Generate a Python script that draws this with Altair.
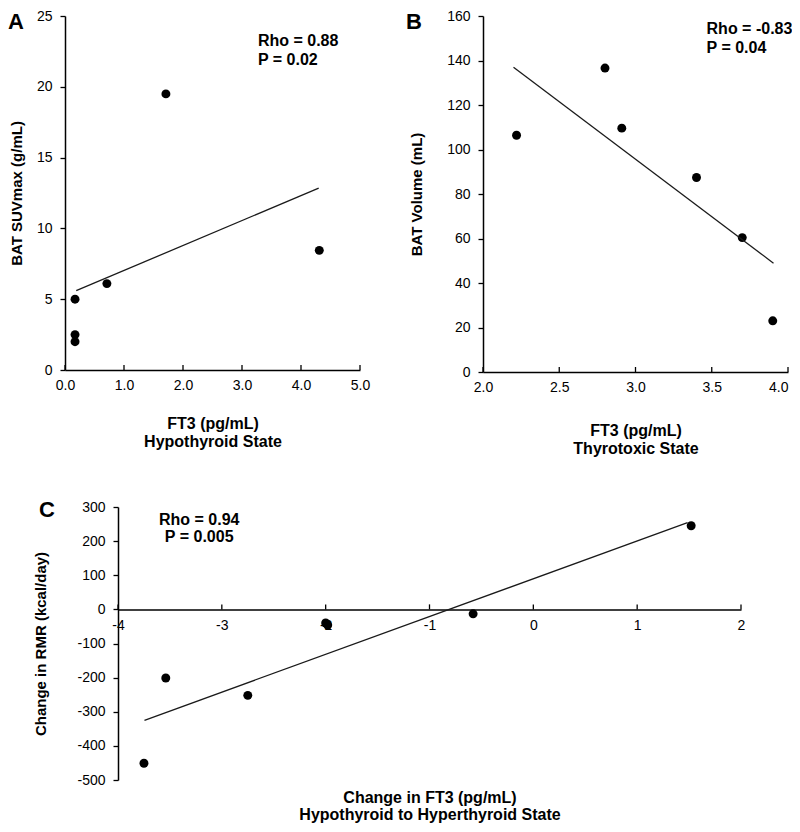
import altair as alt
import pandas as pd

FONT = "Liberation Sans"
W, H = 784, 816

# ---------------- Panel A data ----------------
a_ft3 = [0.17, 0.17, 0.17, 0.71, 1.71, 4.31]
a_suv = [5.0, 2.5, 2.0, 6.1, 19.5, 8.45]
a_fit_x = [0.19, 4.30]
a_fit_y = [5.6, 12.85]
a_xticks = [0, 1, 2, 3, 4, 5]
a_yticks = [0, 5, 10, 15, 20, 25]

# ---------------- Panel B data ----------------
b_ft3 = [2.22, 2.80, 2.91, 3.40, 3.70, 3.90]
b_vol = [106.4, 136.6, 109.6, 87.4, 60.4, 23.0]
b_fit_x = [2.20, 3.905]
b_fit_y = [137.0, 48.9]
b_xticks = [2.0, 2.5, 3.0, 3.5, 4.0]
b_yticks = [0, 20, 40, 60, 80, 100, 120, 140, 160]

# ---------------- Panel C data ----------------
c_dft3 = [-3.75, -3.54, -2.75, -2.0, -1.98, -0.58, 1.52]
c_drmr = [-451, -201, -252, -40, -46, -13, 245]
c_fit_x = [-3.745, 1.485]
c_fit_y = [-325, 254]
c_xticks = [-4, -3, -2, -1, 0, 1, 2]
c_yticks = [-500, -400, -300, -200, -100, 0, 100, 200, 300]


def x_axis(offset, values, title, title_y, fmt=None, label_expr=None, pad=8, lh=18, **extra):
    kw = dict(orient="bottom", offset=offset, values=values, ticks=False, grid=False,
              domainColor="black", domainWidth=1.5,
              labelFont=FONT, labelFontSize=14, labelColor="black", labelPadding=pad,
              labelFlush=False, labelOverlap=False,
              title=title, titleFont=FONT, titleFontSize=16, titleFontWeight="bold",
              titleColor="black", titleY=title_y, titleBaseline="top", titleLineHeight=lh)
    if fmt:
        kw["format"] = fmt
    if label_expr:
        kw["labelExpr"] = label_expr
    kw.update(extra)
    return alt.Axis(**kw)


def y_axis(offset, values, title, title_x, label_expr=None):
    kw = dict(orient="left", offset=offset, values=values, ticks=True, tickSize=5,
              tickWidth=1.3, tickColor="black", grid=False,
              domainColor="black", domainWidth=1.5,
              labelFont=FONT, labelFontSize=14, labelColor="black", labelPadding=8,
              labelFlush=False, labelOverlap=False,
              title=title, titleFont=FONT, titleFontSize=15, titleFontWeight="bold",
              titleColor="black", titleX=title_x, titleAngle=270, titleBaseline="bottom")
    if label_expr:
        kw["labelExpr"] = label_expr
    return alt.Axis(**kw)


def panel(xs, ys, fx, fy, xticks, sx, sy, xaxis, yaxis, axis_px,
          ann_x, ann_y, ann_text, ann_align, lh, letter, lx, ly, lalign):
    pts = alt.Chart(pd.DataFrame({"x": xs, "y": ys})).mark_circle(
        size=80, color="black", opacity=1).encode(
        x=alt.X("x:Q", scale=sx, axis=xaxis),
        y=alt.Y("y:Q", scale=sy, axis=yaxis))
    fit = alt.Chart(pd.DataFrame({"x": fx, "y": fy})).mark_line(
        color="#1a1a1a", strokeWidth=1.3).encode(
        x=alt.X("x:Q", scale=sx, axis=None),
        y=alt.Y("y:Q", scale=sy, axis=None))
    ticks = alt.Chart(pd.DataFrame({"t": xticks})).mark_rule(
        color="black", strokeWidth=1.3).encode(
        x=alt.X("t:Q", scale=sx, axis=None),
        y=alt.value(axis_px), y2=alt.value(axis_px - 5))
    ann = alt.Chart(pd.DataFrame({"i": [0]})).mark_text(
        align=ann_align, baseline="alphabetic", font=FONT, fontSize=16,
        fontWeight="bold", color="black", lineHeight=lh).encode(
        x=alt.XDatum(ann_x, scale=sx, axis=None),
        y=alt.YDatum(ann_y, scale=sy, axis=None),
        text=alt.value(ann_text))
    let = alt.Chart(pd.DataFrame({"i": [0]})).mark_text(
        align=lalign, baseline="alphabetic", font=FONT, fontSize=22,
        fontWeight="bold", color="black").encode(
        x=alt.value(lx), y=alt.value(ly), text=alt.value(letter))
    return [pts, fit, ticks, ann, let]


# ---- Panel A ----
sxa = alt.Scale(domain=[0, 5], range=[57, 352], nice=False, zero=False)
sya = alt.Scale(domain=[0, 25], range=[362, 8], nice=False, zero=False)
A = panel(a_ft3, a_suv, a_fit_x, a_fit_y, a_xticks, sxa, sya,
          x_axis(362 - H, a_xticks, ["FT3 (pg/mL)", "Hypothyroid  State"], 45, fmt=".1f"),
          y_axis(-57, a_yticks, "BAT SUVmax (g/mL)", -41),
          362, 3.27, 22.9, ["Rho = 0.88", "P = 0.02"], "left", 19.5,
          "A", 0, 20.5, "left")

# ---- Panel B ----
sxb = alt.Scale(domain=[2, 4], range=[475, 780], nice=False, zero=False)
syb = alt.Scale(domain=[0, 160], range=[364, 8], nice=False, zero=False)
B = panel(b_ft3, b_vol, b_fit_x, b_fit_y, b_xticks, sxb, syb,
          x_axis(364 - H, b_xticks, ["FT3 (pg/mL)", "Thyrotoxic  State"], 50, fmt=".1f",
                 labelAlign={"condition": {"test": "datum.value >= 4", "value": "right"},
                             "value": "center"}),
          y_axis(-475, b_yticks, "BAT Volume (mL)", -59),
          364, 3.466, 151.9, ["Rho = -0.83", "P = 0.04"], "left", 18.5,
          "B", 406, 20.5, "center")

# ---- Panel C ----
c_yr = [772, 499]
c_zero = c_yr[0] + (0 - c_yticks[0]) / (c_yticks[-1] - c_yticks[0]) * (c_yr[1] - c_yr[0])
sxc = alt.Scale(domain=[-4, 2], range=[110, 733], nice=False, zero=False)
syc = alt.Scale(domain=[-500, 300], range=c_yr, nice=False, zero=False)
C = panel(c_dft3, c_drmr, c_fit_x, c_fit_y, c_xticks, sxc, syc,
          x_axis(c_zero - H, c_xticks,
                 ["Change in FT3 (pg/mL)", "Hypothyroid to Hyperthyroid State"], 180,
                 label_expr="'' + datum.value", pad=9, lh=17.5),
          y_axis(-110, c_yticks, "Change in RMR (kcal/day)", -70,
                 label_expr="'' + datum.value"),
          c_zero, -3.218, 248, ["Rho = 0.94", "P = 0.005"], "center", 17.7,
          "C", 39, 509, "center")

chart = alt.layer(*(A + B + C)).resolve_scale(
    x="independent", y="independent"
).properties(
    width=W, height=H, padding=0,
    autosize=alt.AutoSizeParams(type="none"),
    background="white",
).configure_view(strokeWidth=0)

chart.save("out.html", embed_options={"renderer": "svg", "actions": False})
